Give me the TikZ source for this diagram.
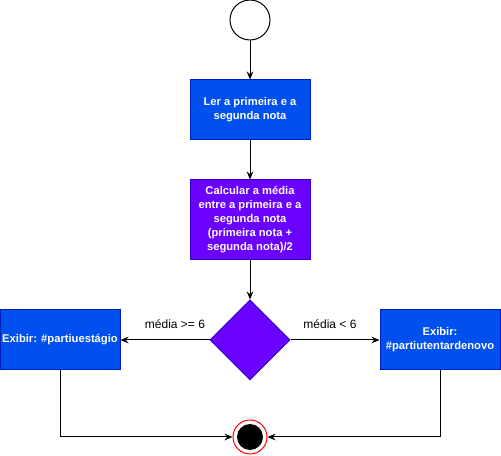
\documentclass[tikz,border=0pt]{standalone}
\usepackage{fontspec}
\setmainfont{Liberation Sans}
\usetikzlibrary{shapes.geometric,arrows.meta}
\definecolor{boxblue}{HTML}{0050EF}
\definecolor{boxbluedark}{HTML}{001DBC}
\definecolor{boxviolet}{HTML}{6A00FF}
\definecolor{boxvioletdark}{HTML}{3700CC}
\begin{document}
\begin{tikzpicture}[x=0.75pt,y=-0.75pt,
  every node/.style={font=\fontsize{9}{10.5}\selectfont},
  boxtext/.style={text=white,font=\bfseries\fontsize{8.4}{10.5}\selectfont,align=center,inner sep=1pt,line width=0.75pt,minimum width=90pt},
  bluebox/.style={boxtext,draw=boxbluedark,fill=boxblue,minimum height=45pt},
  violetbox/.style={boxtext,draw=boxvioletdark,fill=boxviolet,minimum height=60pt},
  conn/.style={draw=black,line width=0.75pt,-{Stealth[length=6pt,width=5pt]}},
  lbl/.style={fill=none,inner sep=1pt}]
\useasboundingbox (0,0) rectangle (501,456);
\node[circle,draw=black,fill=white,minimum size=30pt,inner sep=0pt,line width=0.75pt] (start) at (250,20) {};
\node[bluebox] (read) at (250,110) {Ler a primeira e a\\segunda nota};
\node[violetbox] (calc) at (250,220) {Calcular a média\\entre a primeira e a\\segunda nota\\(primeira nota +\\segunda nota)/2};
\node[diamond,draw=boxvioletdark,fill=boxviolet,minimum width=60pt,minimum height=60pt,inner sep=0pt,aspect=1,line width=0.75pt] (dec) at (250,340) {};
\node[bluebox] (left) at (60,340) {Exibir: \#partiuestágio};
\node[bluebox] (right) at (440,340) {Exibir:\\\#partiutentardenovo};
\node[circle,draw=red,fill=white,minimum size=25.5pt,inner sep=0pt,line width=0.75pt] (end) at (250,437) {};
\node[circle,fill=black,minimum size=19.5pt,inner sep=0pt] (endin) at (250,437) {};
\draw[conn] (start) -- (read);
\draw[conn] (read) -- (calc);
\draw[conn] (calc) -- (dec);
\draw[conn] (dec.west) -- (left.east);
\draw[conn] (dec.east) -- (right.west);
\node[lbl] (lblge) at (175,324) {média >= 6};
\node[lbl] (lbllt) at (330,324) {média < 6};
\draw[conn] (left.south) |- (end.west);
\draw[conn] (right.south) |- (end.east);
\end{tikzpicture}
\end{document}
